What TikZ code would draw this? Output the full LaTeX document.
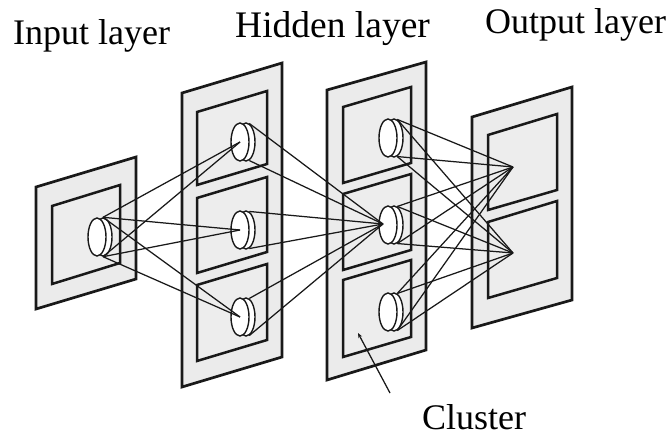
\documentclass[tikz,border=0pt]{standalone}
\usepackage{fontspec}
\setmainfont{Liberation Serif}
\usetikzlibrary{arrows.meta,shapes.geometric}
\begin{document}
\begin{tikzpicture}[x=1pt,y=-1pt,
  panel/.style={draw=black!90,line width=2.7pt,fill=black!8,line join=miter},
  cell/.style={draw=black!90,line width=2.5pt,fill=black!7,line join=miter},
  disc/.style={ellipse,draw=black!90,line width=1.4pt,fill=white,inner sep=0pt,minimum width=18pt,minimum height=38pt},
  link/.style={draw=black!90,line width=1.25pt},
  lbl/.style={anchor=base west,inner sep=0pt,font=\fontsize{36}{40}\selectfont}]
\useasboundingbox (0,0) rectangle (671,438);
% labels
\node[lbl] (tin) at (13,45) {Input layer};
\node[lbl,font=\fontsize{37.5}{40}\selectfont] (thid) at (235,38) {Hidden layer};
\node[lbl] (tout) at (485,34) {Output layer};
\node[lbl] (tcl) at (422,429) {Cluster};
% input panel
\draw[panel] (36,187) -- (136,157) -- (136,279) -- (36,309) -- cycle;
\draw[cell] (52,206) -- (120,185) -- (120,263) -- (52,284) -- cycle;
% hidden 1 panel
\draw[panel] (182,93) -- (282,63) -- (282,357) -- (182,387) -- cycle;
\draw[cell] (197,112) -- (267,91) -- (267,164) -- (197,185) -- cycle;
\draw[cell] (197,198) -- (267,177) -- (267,252) -- (197,273) -- cycle;
\draw[cell] (197,285) -- (267,264) -- (267,340) -- (197,361) -- cycle;
% hidden 2 panel
\draw[panel] (327,90) -- (426,62) -- (426,350) -- (327,380) -- cycle;
\draw[cell] (343,107) -- (411,87) -- (411,163) -- (343,183) -- cycle;
\draw[cell] (343,194) -- (411,174) -- (411,250) -- (343,270) -- cycle;
\draw[cell] (343,280) -- (411,260) -- (411,337) -- (343,357) -- cycle;
% output panel
\draw[panel] (472,117) -- (572,87) -- (572,300) -- (472,328) -- cycle;
\draw[cell] (488,135) -- (557,114) -- (557,190) -- (488,210) -- cycle;
\draw[cell] (488,222) -- (557,201) -- (557,278) -- (488,298) -- cycle;
% discs (rim behind, face in front)
\node[disc] (iR) at (103,237) {};
\node[disc] (i) at (97,237) {};
\foreach \n/\y in {a/142,b/230,c/317}{
  \node[disc] (h1\n R) at (246,\y) {};
  \node[disc] (h1\n) at (240,\y) {};
}
\foreach \n/\y in {a/138,b/225,c/312}{
  \node[disc] (h2\n R) at (394,\y) {};
  \node[disc] (h2\n) at (388,\y) {};
}
\coordinate (o1) at (513,167);
\coordinate (o2) at (513,253);
% input -> hidden 1
\foreach \t in {h1a,h1b,h1c}{
  \draw[link] (iR.90) -- (\t.center);
  \draw[link] (iR.-90) -- (\t.center);
}
% hidden 1 -> hidden 2 middle
\coordinate (m2) at (383,224);
\foreach \s in {h1aR,h1bR,h1cR}{
  \draw[link] (\s.80) -- (m2);
  \draw[link] (\s.-80) -- (m2);
}
% hidden 2 -> output
\foreach \s in {h2aR,h2bR,h2cR}{
  \foreach \t in {o1,o2}{
    \draw[link] (\s.80) -- (\t);
    \draw[link] (\s.-80) -- (\t);
  }
}
% cluster pointer
\coordinate (ctail) at (390,393);
\coordinate (chead) at (358,333);
\draw[link,-{Stealth[length=5pt,width=4pt]}] (ctail) -- (chead);
\end{tikzpicture}
\end{document}
